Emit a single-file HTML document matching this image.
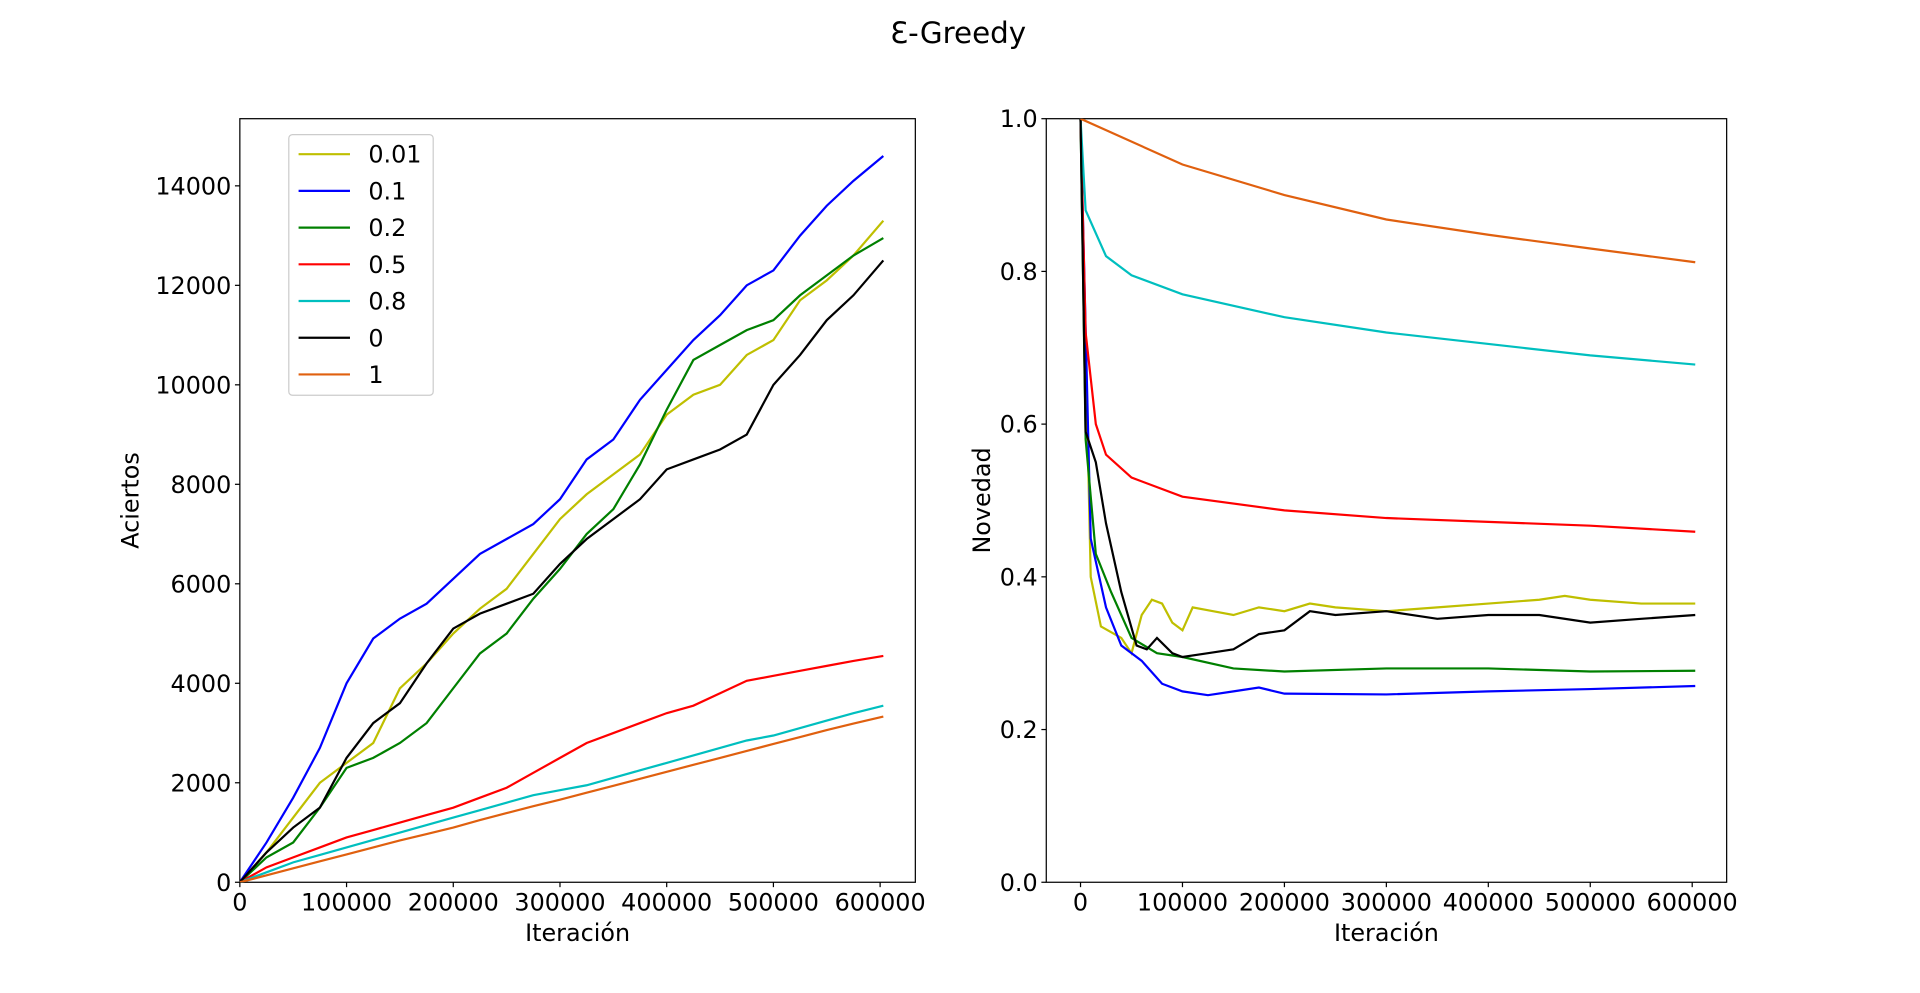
<!DOCTYPE html>
<html><head><meta charset="utf-8"><style>
html,body{margin:0;padding:0;background:#fff;width:1920px;height:993px;overflow:hidden}
svg text{font-family:"DejaVu Sans","Liberation Sans",sans-serif;fill:#000}
</style></head><body>
<svg id="fig" width="1920" height="993" viewBox="0 0 1569 811.5" preserveAspectRatio="none" xmlns="http://www.w3.org/2000/svg">
<rect width="1569" height="812" fill="#fff"/>
<text x="783" y="35" font-size="24" text-anchor="middle">Ɛ-Greedy</text>
<g id="left"></g>
<g id="right"></g>
</svg>
<script>
const seriesLabels = ["0.01","0.1","0.2","0.5","0.8","0","1"];
const seriesColors = ["#bfbf00","#0000ff","#008000","#ff0000","#00bfbf","#000000","#e0600f"];
const leftX = [0,25000,50000,75000,100000,125000,150000,175000,200000,225000,250000,275000,300000,325000,350000,375000,400000,425000,450000,475000,500000,525000,550000,575000,603000];
const leftY001 = [0,600,1300,2000,2400,2800,3900,4400,5000,5500,5900,6600,7300,7800,8200,8600,9400,9800,10000,10600,10900,11700,12100,12600,13300];
const leftY01 = [0,800,1700,2700,4000,4900,5300,5600,6100,6600,6900,7200,7700,8500,8900,9700,10300,10900,11400,12000,12300,13000,13600,14100,14600];
const leftY02 = [0,500,800,1500,2300,2500,2800,3200,3900,4600,5000,5700,6300,7000,7500,8400,9500,10500,10800,11100,11300,11800,12200,12600,12950];
const leftY05 = [0,300,500,700,900,1050,1200,1350,1500,1700,1900,2200,2500,2800,3000,3200,3400,3550,3800,4050,4150,4250,4350,4450,4550];
const leftY08 = [0,200,400,550,700,850,1000,1150,1300,1450,1600,1750,1850,1950,2100,2250,2400,2550,2700,2850,2950,3100,3250,3400,3550];
const leftY0 = [0,600,1100,1500,2500,3200,3600,4400,5100,5400,5600,5800,6400,6900,7300,7700,8300,8500,8700,9000,10000,10600,11300,11800,12500];
const leftY1 = [0,140,280,420,560,700,840,970,1100,1250,1390,1530,1660,1800,1940,2080,2220,2360,2500,2640,2780,2920,3060,3190,3330];
const leftYTicks = [0,2000,4000,6000,8000,10000,12000,14000];
const leftXTicks = [0,100000,200000,300000,400000,500000,600000];

const rX001 = [0,10000,20000,40000,50000,60000,70000,80000,90000,100000,110000,130000,150000,175000,200000,225000,250000,300000,350000,400000,450000,475000,500000,550000,603000];
const rY001 = [1.0,0.40,0.335,0.32,0.30,0.35,0.37,0.365,0.34,0.33,0.36,0.355,0.35,0.36,0.355,0.365,0.36,0.355,0.36,0.365,0.37,0.375,0.37,0.365,0.365];
const rX01 = [0,10000,25000,40000,60000,80000,100000,125000,150000,175000,200000,300000,400000,500000,603000];
const rY01 = [1.0,0.45,0.36,0.31,0.29,0.26,0.25,0.245,0.25,0.255,0.247,0.246,0.25,0.253,0.257];
const rX02 = [0,5000,15000,30000,50000,75000,100000,150000,200000,300000,400000,500000,603000];
const rY02 = [1.0,0.58,0.43,0.38,0.32,0.30,0.295,0.28,0.276,0.28,0.28,0.276,0.277];
const rX05 = [0,5000,15000,25000,50000,100000,200000,300000,400000,500000,603000];
const rY05 = [1.0,0.72,0.60,0.56,0.53,0.505,0.487,0.477,0.472,0.467,0.459];
const rX08 = [0,5000,25000,50000,100000,200000,300000,400000,500000,603000];
const rY08 = [1.0,0.88,0.82,0.795,0.77,0.74,0.72,0.705,0.69,0.678];
const rX0 = [0,5000,15000,25000,40000,55000,65000,75000,90000,100000,125000,150000,175000,200000,225000,250000,300000,350000,400000,450000,500000,550000,603000];
const rY0 = [1.0,0.59,0.55,0.47,0.38,0.31,0.305,0.32,0.30,0.295,0.30,0.305,0.325,0.33,0.355,0.35,0.355,0.345,0.35,0.35,0.34,0.345,0.35];
const rX1 = [0,100000,200000,300000,400000,500000,603000];
const rY1 = [1.0,0.94,0.90,0.868,0.848,0.83,0.812];
const rightYTicks = [0.0,0.2,0.4,0.6,0.8,1.0];
const rightXTicks = [0,100000,200000,300000,400000,500000,600000];

const NS="http://www.w3.org/2000/svg";
function mk(parent,tag,attrs){const e=document.createElementNS(NS,tag);for(const k in attrs)e.setAttribute(k,attrs[k]);parent.appendChild(e);return e;}

function drawAxes(g,box,xd,yd,xt,yt,fmtY,xlabel,ylabel,prefix){
  const sx=v=>box.x0+(v-xd[0])/(xd[1]-xd[0])*(box.x1-box.x0);
  const sy=v=>box.y1-(v-yd[0])/(yd[1]-yd[0])*(box.y1-box.y0);
  const frame=mk(g,'rect',{x:box.x0,y:box.y0,width:box.x1-box.x0,height:box.y1-box.y0,fill:'none',stroke:'#000','stroke-width':1});
  
  
  xt.forEach(v=>{
    const x=sx(v);
    mk(g,'line',{x1:x,x2:x,y1:box.y1,y2:box.y1+4,stroke:'#000'});
    const t=mk(g,'text',{x:x,y:box.y1+23,'font-size':19.5,'text-anchor':'middle'});
    t.textContent=String(v);
    
    
  });
  yt.forEach(v=>{
    const y=sy(v);
    mk(g,'line',{x1:box.x0-4,x2:box.x0,y1:y,y2:y,stroke:'#000'});
    const t=mk(g,'text',{x:box.x0-7,y:y+7,'font-size':19.5,'text-anchor':'end'});
    t.textContent=fmtY(v);
    
    
  });
  const xl=mk(g,'text',{x:(box.x0+box.x1)/2,y:box.y1+48,'font-size':19.5,'text-anchor':'middle'});
  xl.textContent=xlabel;
  
  
  const yl=mk(g,'text',{x:0,y:0,'font-size':19.5,'text-anchor':'middle',transform:`translate(${box.ylx},${(box.y0+box.y1)/2}) rotate(-90)`});
  yl.textContent=ylabel;
  
  
  return {sx,sy};
}
function drawLine(g,sc,xs,ys,color,name,clip){
  const d=xs.map((x,i)=>(i?'L':'M')+sc.sx(x).toFixed(2)+','+sc.sy(ys[i]).toFixed(2)).join('');
  const p=mk(g,'path',{d:d,fill:'none',stroke:color,'stroke-width':1.8,'clip-path':clip});
  
  
}
const svg=document.getElementById('fig');
const defs=mk(svg,'defs',{});
const c1=mk(defs,'clipPath',{id:'cl'});mk(c1,'rect',{x:196,y:97,width:552,height:624});
const c2=mk(defs,'clipPath',{id:'cr'});mk(c2,'rect',{x:855,y:97,width:556,height:624});

const L=document.getElementById('left');
const sl=drawAxes(L,{x0:196,x1:748,y0:97,y1:721,ylx:113},[0,633000],[0,15350],leftXTicks,leftYTicks,v=>String(v),'Iteración','Aciertos','left');
const leftSeries=[leftY001,leftY01,leftY02,leftY05,leftY08,leftY0,leftY1];
leftSeries.forEach((ys,i)=>drawLine(L,sl,leftX,ys,seriesColors[i],'left-line-'+seriesLabels[i],'url(#cl)'));

const R=document.getElementById('right');
const sr=drawAxes(R,{x0:855,x1:1411,y0:97,y1:721,ylx:809},[-33600,633800],[0,1],rightXTicks,rightYTicks,v=>v.toFixed(1),'Iteración','Novedad','right');
const rxs=[rX001,rX01,rX02,rX05,rX08,rX0,rX1], rys=[rY001,rY01,rY02,rY05,rY08,rY0,rY1];
rxs.forEach((xs,i)=>drawLine(R,sr,xs,rys[i],seriesColors[i],'right-line-'+seriesLabels[i],'url(#cr)'));

const lg=mk(L,'g',{});


mk(lg,'rect',{x:236,y:110,width:118,height:213,rx:3,fill:'#fff',stroke:'#ccc','fill-opacity':0.8});
seriesLabels.forEach((lab,i)=>{
  const y=126+i*30;
  const e=mk(lg,'g',{});
  
  
  mk(e,'line',{x1:244,x2:286,y1:y,y2:y,stroke:seriesColors[i],'stroke-width':1.8});
  const t=mk(e,'text',{x:301,y:y+7,'font-size':19.5});
  t.textContent=lab;
});
</script>
</body></html>
